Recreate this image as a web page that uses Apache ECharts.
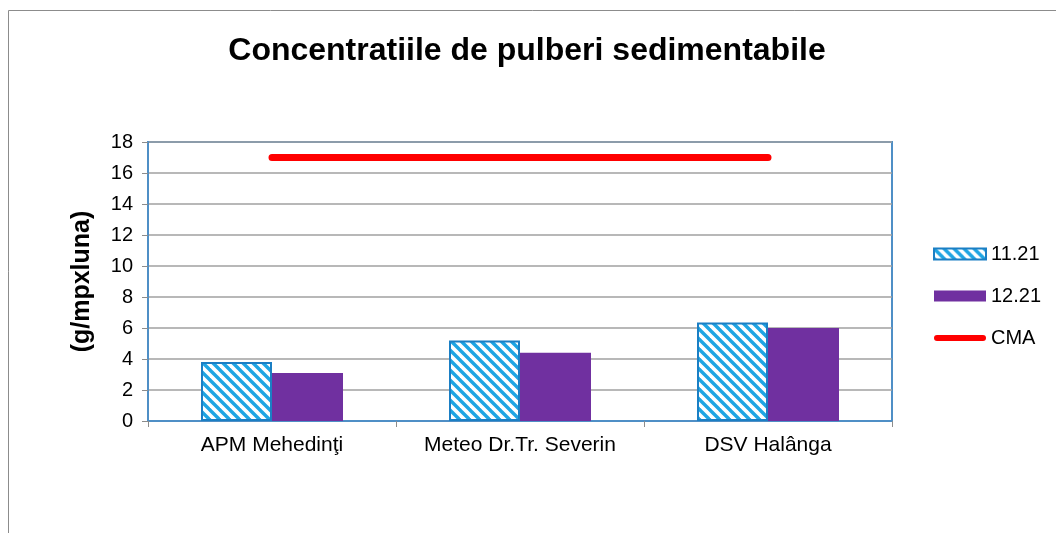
<!DOCTYPE html>
<html>
<head>
<meta charset="utf-8">
<script src="https://cdn.jsdelivr.net/npm/echarts@6/dist/echarts.min.js"></script>
<style>
html,body{margin:0;padding:0;background:#fff;}
#chart{width:1056px;height:533px;}
</style>
</head>
<body>
<div id="chart"></div>
<script>
const categories = ['APM Mehedinţi', 'Meteo Dr.Tr. Severin', 'DSV Halânga'];
const s1121 = [3.8, 5.2, 6.35];
const s1221 = [3.1, 4.4, 6.0];
const cma = [17, 17, 17];
const yTicks = { min: 0, max: 18, interval: 2 };

function stripePattern() {
  const c = document.createElement('canvas');
  c.width = 10; c.height = 10;
  const ctx = c.getContext('2d');
  ctx.fillStyle = '#ffffff';
  ctx.fillRect(0, 0, 10, 10);
  ctx.strokeStyle = '#1ea5e3';
  ctx.lineWidth = 3.4;
  for (let k = -2; k <= 2; k++) {
    ctx.beginPath();
    ctx.moveTo(-5, -5 + k * 10);
    ctx.lineTo(15, 15 + k * 10);
    ctx.stroke();
  }
  return c;
}

const chart = echarts.init(document.getElementById('chart'));
const font = 'Arial, "Liberation Sans", sans-serif';
chart.setOption({
  animation: false,
  backgroundColor: '#fff',
  textStyle: { fontFamily: font },
  title: {
    text: 'Concentratiile de pulberi sedimentabile',
    left: 522, top: 30, textAlign: 'center',
    textStyle: { fontSize: 32, fontWeight: 'bold', color: '#000', fontFamily: font }
  },
  graphic: [
    { type: 'line', shape: { x1: 8.5, y1: 10.5, x2: 1056, y2: 10.5 }, style: { stroke: '#8c8c8c', lineWidth: 1 } },
    { type: 'line', shape: { x1: 8.5, y1: 10.5, x2: 8.5, y2: 533 }, style: { stroke: '#8c8c8c', lineWidth: 1 } }
  ],
  legend: {
    orient: 'vertical', left: 933, top: 244, padding: 0,
    itemWidth: 52, itemHeight: 11, itemGap: 22,
    textStyle: { fontSize: 20, color: '#000', fontFamily: font },
    data: [
      { name: '11.21', icon: 'rect' },
      { name: '12.21', icon: 'rect' },
      { name: 'CMA', icon: 'path://M3,0 L49,0 A3,3 0 0 1 49,6 L3,6 A3,3 0 0 1 3,0 Z', itemStyle: { color: '#ff0000' } }
    ]
  },
  grid: {
    left: 148, right: 164, top: 142, bottom: 112,
    show: true, borderColor: '#4f8fc6', borderWidth: 2
  },
  xAxis: {
    type: 'category', data: categories,
    axisLine: { lineStyle: { color: '#4f8fc6', width: 2 } },
    axisTick: { show: true, length: 6, lineStyle: { color: '#8c8c8c' } },
    axisLabel: { interval: 0, fontSize: 21, color: '#000', margin: 14, fontFamily: font }
  },
  yAxis: {
    type: 'value', min: yTicks.min, max: yTicks.max, interval: yTicks.interval,
    name: '(g/mpxluna)', nameLocation: 'middle', nameRotate: 90, nameGap: 53,
    nameTextStyle: { fontSize: 25, fontWeight: 'bold', color: '#000', fontFamily: font },
    axisLine: { show: true, lineStyle: { color: '#4f8fc6', width: 2 } },
    axisTick: { show: true, length: 6, lineStyle: { color: '#8c8c8c' } },
    splitLine: { lineStyle: { color: '#a0a0a0', width: 1.5 } },
    axisLabel: { fontSize: 20, color: '#000', margin: 15, fontFamily: font }
  },
  series: [
    {
      name: '11.21', type: 'bar', data: s1121, barWidth: 71, barGap: '0%',
      itemStyle: { color: { image: stripePattern(), repeat: 'repeat' }, borderColor: '#1b7fc4', borderWidth: 2 }
    },
    {
      name: '12.21', type: 'bar', data: s1221, barWidth: 71, barGap: '0%',
      itemStyle: { color: '#7030a0' }
    },
    {
      name: 'CMA', type: 'line', data: cma, symbol: 'none',
      lineStyle: { color: '#ff0000', width: 7, cap: 'round' },
      itemStyle: { color: '#ff0000' }
    }
  ]
});
</script>
</body>
</html>
